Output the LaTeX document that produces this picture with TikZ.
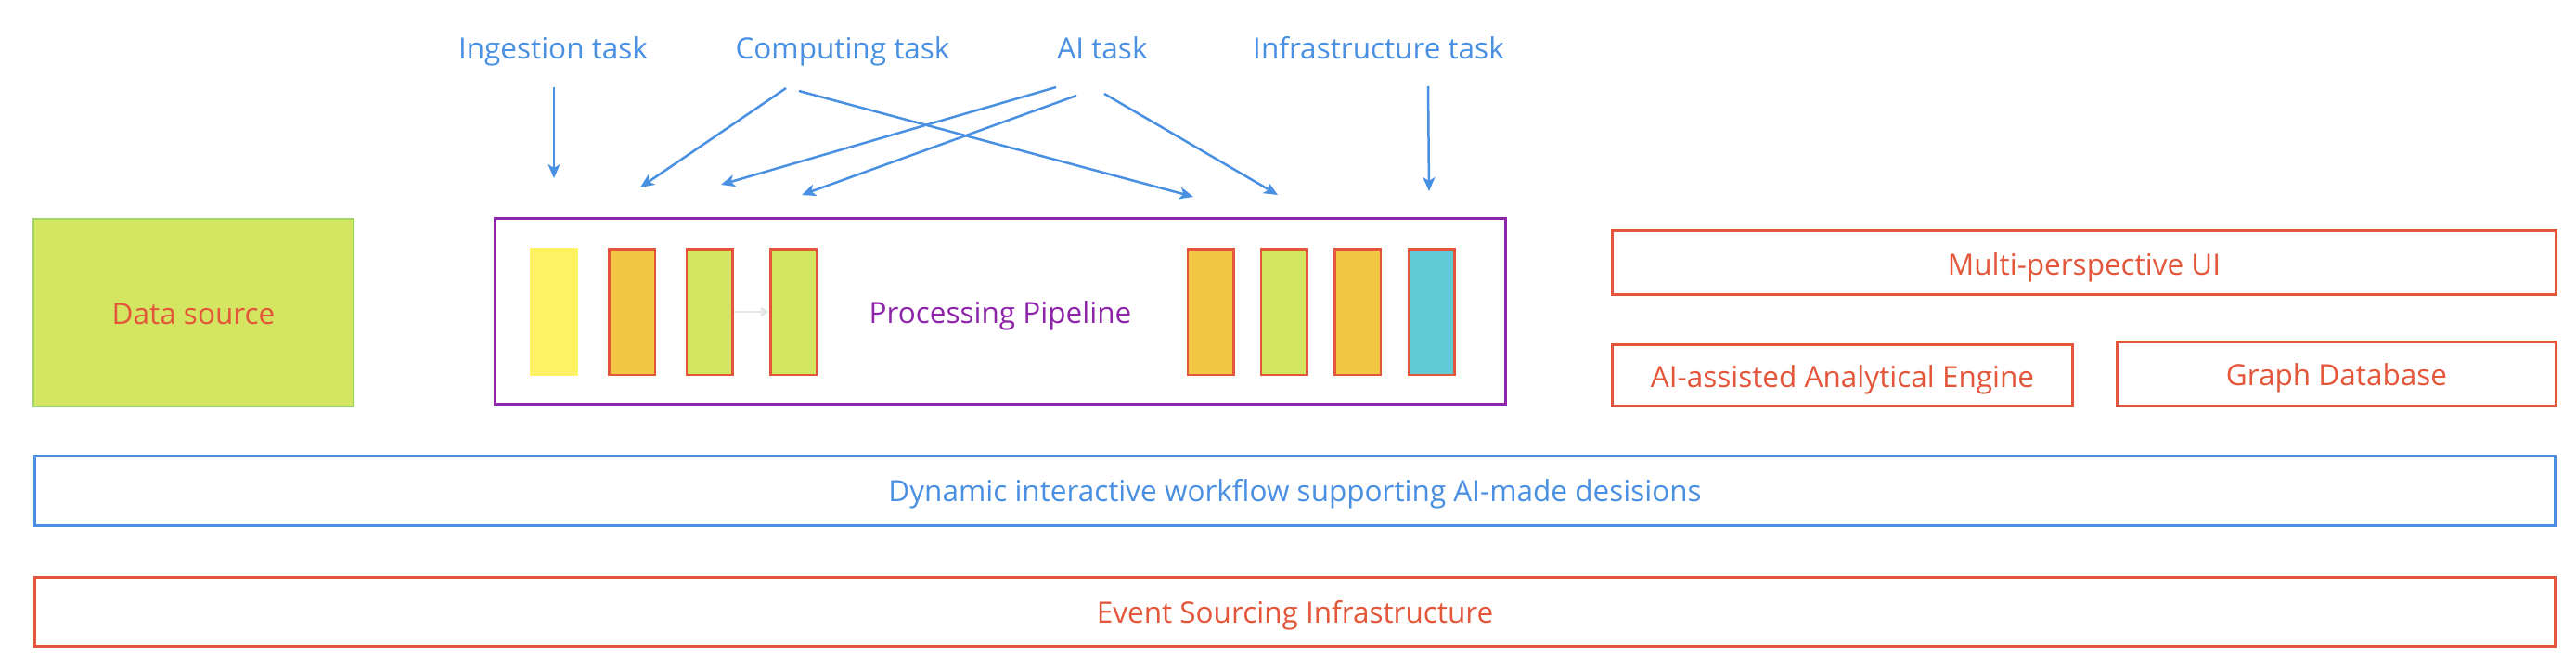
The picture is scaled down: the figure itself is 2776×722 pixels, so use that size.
\documentclass[tikz,border=0pt]{standalone}
\usepackage{fontspec}
\setmainfont{Open Sans}
\usetikzlibrary{arrows.meta}
\definecolor{cblue}{HTML}{4A90E2}
\definecolor{cred}{HTML}{E4563A}
\definecolor{cpurple}{HTML}{8E24AA}
\definecolor{cgreen}{HTML}{D3E561}
\definecolor{cgreenb}{HTML}{A0D468}
\definecolor{cyellow}{HTML}{FDF264}
\definecolor{corange}{HTML}{F2C744}
\definecolor{ccyan}{HTML}{5FCAD3}
\definecolor{cgrey}{HTML}{E6E6E6}
\begin{document}
\begin{tikzpicture}[x=1pt,y=-1pt,
  txt/.style={font=\fontsize{31.5}{38}\selectfont, inner sep=0, anchor=base},
  lbl/.style={txt, text=cblue},
  frame/.style={draw, line width=2.5pt, inner sep=0},
  bar/.style={draw=cred, line width=2.5pt, minimum width=49.5pt, minimum height=135.5pt, inner sep=0},
  task/.style={draw=cblue, line width=2.5pt, -{Stealth[length=15pt,width=13pt,inset=4pt]}}]
\useasboundingbox (0,0) rectangle (2776,722);
\fill[white] (0,0) rectangle (2776,722);

% task labels
\node[lbl] (ting) at (596,64) {Ingestion task};
\node[lbl] (tcomp) at (908,64) {Computing task};
\node[lbl] (tai) at (1188,64) {AI task};
\node[lbl] (tinf) at (1485.5,64) {Infrastructure task};

% data source
\node[frame, draw=cgreenb, fill=cgreen, line width=2pt, minimum width=345pt, minimum height=202pt] (ds) at (208.5,337) {};
\node[txt, text=cred] (dstxt) at (208.5,349) {Data source};

% pipeline
\node[frame, draw=cpurple, line width=3pt, minimum width=1089pt, minimum height=200pt] (pipe) at (1078,335.5) {};
\node[txt, text=cpurple] (pipetxt) at (1078,348) {Processing Pipeline};

\node[fill=cyellow, minimum width=52pt, minimum height=138pt, inner sep=0] (b1) at (597,336) {};
\node[bar, fill=corange] (b2) at (681,336) {};
\node[bar, fill=cgreen] (b3) at (764.5,336) {};
\node[bar, fill=cgreen] (b4) at (855,336) {};
\node[bar, fill=corange] (b5) at (1304.5,336) {};
\node[bar, fill=cgreen] (b6) at (1383.5,336) {};
\node[bar, fill=corange] (b7) at (1463,336) {};
\node[bar, fill=ccyan] (b8) at (1542.5,336) {};
\draw[cgrey, line width=2pt, -{Triangle[length=9pt,width=10pt]}] (b3.east) -- (b4.west);

% right side boxes
\node[frame, draw=cred, minimum width=1017pt, minimum height=69pt] (ui) at (2246,283) {};
\node[txt, text=cred] (uitxt) at (2246,296) {Multi-perspective UI};
\node[frame, draw=cred, minimum width=496pt, minimum height=66pt] (eng) at (1985.5,404.5) {};
\node[txt, text=cred] (engtxt) at (1985.5,417) {AI-assisted Analytical Engine};
\node[frame, draw=cred, minimum width=473pt, minimum height=69pt] (gdb) at (2518,403) {};
\node[txt, text=cred] (gdbtxt) at (2518,415) {Graph Database};

% bottom bands
\node[frame, draw=cblue, minimum width=2716pt, minimum height=75pt] (wf) at (1395.5,529) {};
\node[txt, text=cblue] (wftxt) at (1395.5,540) {Dynamic interactive workflow supporting AI-made desisions};
\node[frame, draw=cred, minimum width=2716pt, minimum height=74pt] (es) at (1395.5,659.5) {};
\node[txt, text=cred] (estxt) at (1395.5,671) {Event Sourcing Infrastructure};

% arrow endpoints
\coordinate (s1) at (597,94);   \coordinate (e1) at (597,192);
\coordinate (s2) at (847,95);   \coordinate (e2) at (690,202);
\coordinate (s3) at (861,98);   \coordinate (e3) at (1286,212);
\coordinate (s4) at (1138,94);  \coordinate (e4) at (777,199);
\coordinate (s5) at (1160,103); \coordinate (e5) at (864,210);
\coordinate (s6) at (1190,101); \coordinate (e6) at (1377,210);
\coordinate (s7) at (1539,93);  \coordinate (e7) at (1540,206);
\draw[task] (s1) -- (e1);
\draw[task] (s2) -- (e2);
\draw[task] (s3) -- (e3);
\draw[task] (s4) -- (e4);
\draw[task] (s5) -- (e5);
\draw[task] (s6) -- (e6);
\draw[task] (s7) -- (e7);
\end{tikzpicture}
\end{document}
